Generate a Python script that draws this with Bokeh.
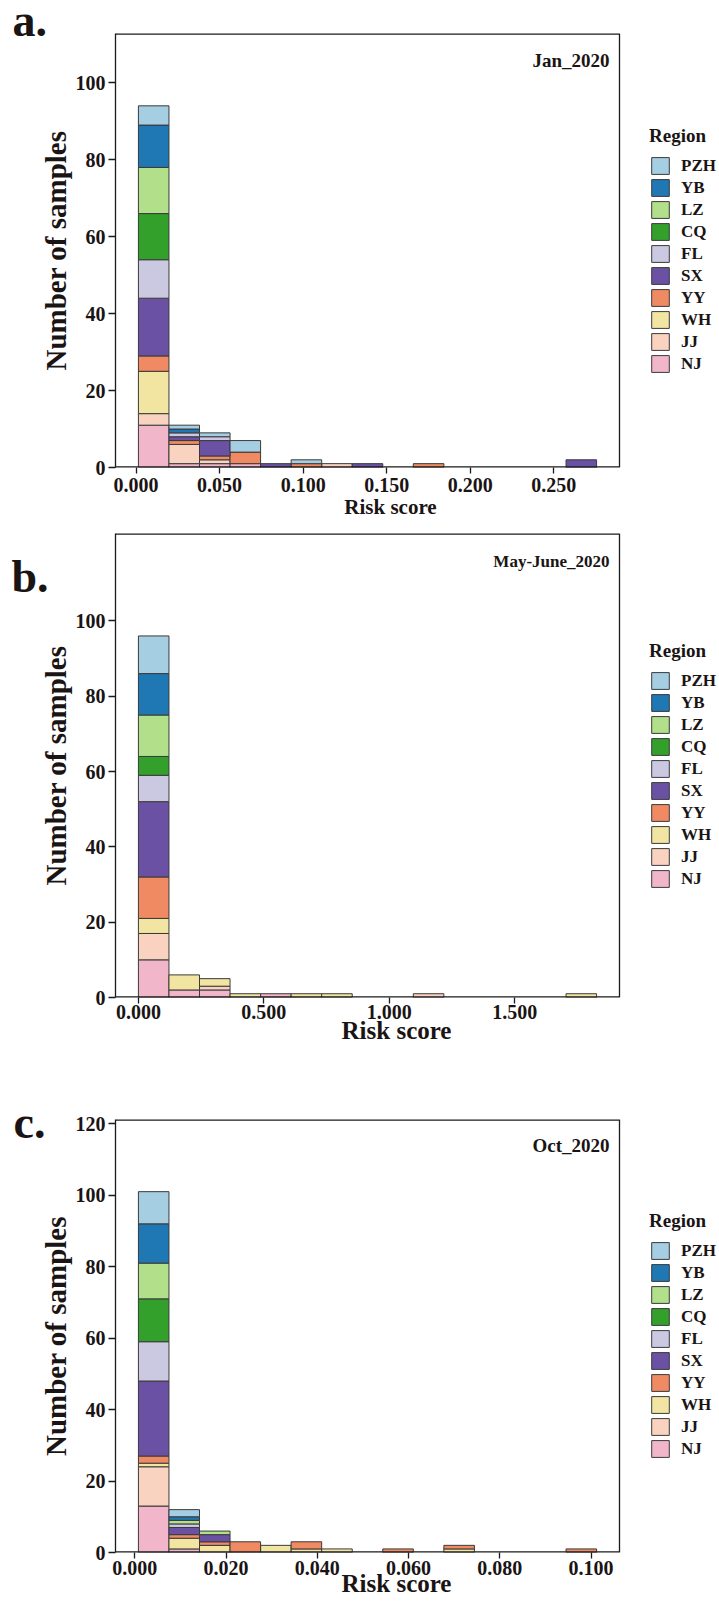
import numpy as np
from bokeh.plotting import figure
from bokeh.models import (ColumnDataSource, Range1d, FixedTicker, NumeralTickFormatter,
                          Label, Legend, LegendItem, LinearAxis, Title)
from bokeh.layouts import column
from bokeh.embed import file_html
from bokeh.resources import INLINE

# ---------------- data ----------------
regions = ["NJ", "JJ", "WH", "YY", "SX", "FL", "CQ", "LZ", "YB", "PZH"]
region_colors = ["#f1b6c9", "#f9d3bf", "#f2e5a2", "#ef8a62", "#6a51a3",
                 "#cbc9e2", "#33a02c", "#b2df8a", "#1f78b4", "#a6cee3"]

# Jan_2020: sample counts in 15 equal-width risk-score bins (min..max score)
jan_score_range = [0.0014, 0.2756]
jan_counts = {
    "NJ":  [11, 1, 1, 1, 0, 0, 0, 0, 0, 0, 0, 0, 0, 0, 0],
    "JJ":  [3, 5, 1, 0, 0, 0, 1, 0, 0, 0, 0, 0, 0, 0, 0],
    "WH":  [11, 0, 0, 0, 0, 0, 0, 0, 0, 0, 0, 0, 0, 0, 0],
    "YY":  [4, 1, 1, 3, 0, 1, 0, 0, 0, 1, 0, 0, 0, 0, 0],
    "SX":  [15, 1, 4, 0, 1, 0, 0, 1, 0, 0, 0, 0, 0, 0, 2],
    "FL":  [10, 1, 1, 0, 0, 0, 0, 0, 0, 0, 0, 0, 0, 0, 0],
    "CQ":  [12, 0, 0, 0, 0, 0, 0, 0, 0, 0, 0, 0, 0, 0, 0],
    "LZ":  [12, 0, 0, 0, 0, 0, 0, 0, 0, 0, 0, 0, 0, 0, 0],
    "YB":  [11, 1, 0, 0, 0, 0, 0, 0, 0, 0, 0, 0, 0, 0, 0],
    "PZH": [5, 1, 1, 3, 0, 1, 0, 0, 0, 0, 0, 0, 0, 0, 0],
}
jan_xticks = [0.0, 0.05, 0.10, 0.15, 0.20, 0.25]
jan_yticks = [0, 20, 40, 60, 80, 100]
jan_ytop = 112.8

# May-June_2020
may_score_range = [0.0, 1.826]
may_counts = {
    "NJ":  [10, 2, 2, 0, 1, 0, 0, 0, 0, 0, 0, 0, 0, 0, 0],
    "JJ":  [7, 0, 1, 0, 0, 0, 0, 0, 0, 1, 0, 0, 0, 0, 0],
    "WH":  [4, 4, 2, 1, 0, 1, 1, 0, 0, 0, 0, 0, 0, 0, 1],
    "YY":  [11, 0, 0, 0, 0, 0, 0, 0, 0, 0, 0, 0, 0, 0, 0],
    "SX":  [20, 0, 0, 0, 0, 0, 0, 0, 0, 0, 0, 0, 0, 0, 0],
    "FL":  [7, 0, 0, 0, 0, 0, 0, 0, 0, 0, 0, 0, 0, 0, 0],
    "CQ":  [5, 0, 0, 0, 0, 0, 0, 0, 0, 0, 0, 0, 0, 0, 0],
    "LZ":  [11, 0, 0, 0, 0, 0, 0, 0, 0, 0, 0, 0, 0, 0, 0],
    "YB":  [11, 0, 0, 0, 0, 0, 0, 0, 0, 0, 0, 0, 0, 0, 0],
    "PZH": [10, 0, 0, 0, 0, 0, 0, 0, 0, 0, 0, 0, 0, 0, 0],
}
may_xticks = [0.0, 0.5, 1.0, 1.5]
may_yticks = [0, 20, 40, 60, 80, 100]
may_ytop = 123.2

# Oct_2020
oct_score_range = [0.0008, 0.1012]
oct_counts = {
    "NJ":  [13, 1, 0, 0, 0, 0, 0, 0, 0, 0, 0, 0, 0, 0, 0],
    "JJ":  [11, 0, 0, 0, 0, 0, 0, 0, 0, 0, 0, 0, 0, 0, 0],
    "WH":  [1, 3, 2, 0, 2, 1, 1, 0, 0, 0, 1, 0, 0, 0, 0],
    "YY":  [2, 1, 1, 3, 0, 2, 0, 0, 1, 0, 1, 0, 0, 0, 1],
    "SX":  [21, 2, 2, 0, 0, 0, 0, 0, 0, 0, 0, 0, 0, 0, 0],
    "FL":  [11, 1, 0, 0, 0, 0, 0, 0, 0, 0, 0, 0, 0, 0, 0],
    "CQ":  [12, 0, 0, 0, 0, 0, 0, 0, 0, 0, 0, 0, 0, 0, 0],
    "LZ":  [10, 1, 1, 0, 0, 0, 0, 0, 0, 0, 0, 0, 0, 0, 0],
    "YB":  [11, 1, 0, 0, 0, 0, 0, 0, 0, 0, 0, 0, 0, 0, 0],
    "PZH": [9, 2, 0, 0, 0, 0, 0, 0, 0, 0, 0, 0, 0, 0, 0],
}
oct_xticks = [0.0, 0.02, 0.04, 0.06, 0.08, 0.10]
oct_yticks = [0, 20, 40, 60, 80, 100, 120]
oct_ytop = 121.2

# ---------------- style / layout ----------------
FONT = "Liberation Serif"
TXT = "#1a1414"
EDGE = "#3a3a3a"
SPINE = "#1a1a1a"
FIG_W = 719
FL_ = 115        # frame left (px)
BOX_W = 504      # width of the drawn axes box (px)
FRAME_W = FIG_W - FL_   # plotting frame runs to the right edge so the legend is not clipped


def plain_axis(ax):
    ax.axis_line_color = None
    ax.major_tick_line_color = None
    ax.minor_tick_line_color = None
    ax.major_tick_in = 0
    ax.major_tick_out = 0
    ax.major_label_text_font = FONT
    ax.major_label_text_font_style = "bold"
    ax.major_label_text_color = TXT


def build_panel(counts, score_range, xticks, yticks, ytop, letter, title, g):
    lo, hi = score_range
    nb = len(counts["NJ"])
    edges = np.linspace(lo, hi, nb + 1)
    span = hi - lo
    x0, x1 = lo - 0.05 * span, hi + 0.05 * span          # axes box limits
    xr_end = x0 + (x1 - x0) * FRAME_W / BOX_W              # frame extends past the box
    to_data = lambda px: x0 + (px - FL_) / FRAME_W * (xr_end - x0)
    fh = g["fh"]
    p = figure(width=FIG_W, height=g["fig_h"], output_backend="svg", toolbar_location=None,
               title=None, x_range=Range1d(x0, xr_end), y_range=Range1d(0, ytop),
               min_border_left=FL_, min_border_right=0,
               min_border_top=g["bt"], min_border_bottom=g["fig_h"] - g["bt"] - fh)
    p.background_fill_color = "white"
    p.border_fill_color = "white"
    p.outline_line_color = None
    p.xgrid.visible = False
    p.ygrid.visible = False

    bottoms = np.zeros(nb)
    rends = {}
    for reg, col in zip(regions, region_colors):
        c = np.array(counts[reg], dtype=float)
        m = c > 0
        src = ColumnDataSource(dict(left=edges[:-1][m], right=edges[1:][m],
                                    bottom=bottoms[m], top=(bottoms + c)[m]))
        rends[reg] = p.quad(left="left", right="right", bottom="bottom", top="top",
                            source=src, fill_color=col, line_color=EDGE, line_width=1)
        bottoms = bottoms + c

    # axes box: top and bottom edges sit on the frame edge (half clipped), right edge inside
    p.segment(x0=[x0, x0], y0=[0, ytop], x1=[x1, x1], y1=[0, ytop],
              line_color=SPINE, line_width=2.6)
    p.segment(x0=[x1], y0=[0], x1=[x1], y1=[ytop], line_color=SPINE, line_width=1.3)

    for ax, ticks in ((p.xaxis, xticks), (p.yaxis, yticks)):
        ax.ticker = FixedTicker(ticks=ticks)
        ax.major_label_text_font = FONT
        ax.major_label_text_font_style = "bold"
        ax.major_label_text_font_size = "20px"
        ax.major_label_text_color = TXT
        ax.major_tick_line_color = SPINE
        ax.major_tick_line_width = 1.3
        ax.major_tick_in = 0
        ax.minor_tick_line_color = None
    p.xaxis.axis_line_color = None
    p.yaxis.axis_line_color = SPINE
    p.yaxis.axis_line_width = 1.3
    p.xaxis.formatter = NumeralTickFormatter(format="0.000")
    p.xaxis.major_tick_out = 6
    p.xaxis.major_label_standoff = g["xstand"]
    p.yaxis.major_tick_out = 7
    p.yaxis.major_label_standoff = 3
    p.yaxis.axis_label = "Number of samples"
    p.yaxis.axis_label_text_font = FONT
    p.yaxis.axis_label_text_font_style = "bold"
    p.yaxis.axis_label_text_font_size = "29px"
    p.yaxis.axis_label_text_color = TXT
    p.yaxis.axis_label_standoff = 1

    # x label: a text-only axis stacked below the tick labels (off-centre as in the source)
    xl_pos = to_data(g["xlab_px"])
    xl = LinearAxis(ticker=FixedTicker(ticks=[xl_pos]), major_label_overrides={xl_pos: "Risk score"})
    plain_axis(xl)
    xl.major_label_text_font_size = g["xlab_size"]
    xl.major_label_standoff = g["xlab_stand"]
    p.add_layout(xl, "below")

    # panel letter
    if g["letter_mode"] == "title":
        t = Title(text=letter, align="left", offset=g["letter_off"], standoff=g["letter_stand"],
                  text_font=FONT, text_font_style="bold", text_font_size="46px", text_color=TXT)
        p.add_layout(t, "above")
    else:
        ly = (fh - g["letter_py"]) / fh * ytop
        la = LinearAxis(ticker=FixedTicker(ticks=[ly]), major_label_overrides={ly: letter})
        plain_axis(la)
        la.major_label_text_font_size = "46px"
        la.major_label_standoff = g["letter_stand"]
        p.add_layout(la, "left")

    items = [LegendItem(label=r, renderers=[rends[r]]) for r in reversed(regions)]
    leg = Legend(items=items, location=(BOX_W + 30, g["leg_y"]), title="Region",
                 title_text_font=FONT, title_text_font_style="bold",
                 title_text_font_size="19px", title_text_color=TXT, title_standoff=8,
                 label_text_font=FONT, label_text_font_style="bold",
                 label_text_font_size="17px", label_text_color=TXT,
                 glyph_width=22, glyph_height=21, label_height=21, spacing=1,
                 label_standoff=10, padding=0, margin=0,
                 border_line_color=None, background_fill_alpha=0)
    p.add_layout(leg)

    p.add_layout(Label(x=BOX_W - 10, y=g["title_y"], x_units="screen", y_units="screen",
                       text=title, text_font=FONT, text_font_style="bold",
                       text_font_size=g["title_size"], text_color=TXT, text_align="right"))
    return p


geo_a = dict(fig_h=528, bt=33, fh=434, xstand=4, xlab_px=390, xlab_size="21px", xlab_stand=0,
             letter_mode="title", letter_off=-103, letter_stand=-24,
             title_y=397, title_size="19px", leg_y=93)
geo_b = dict(fig_h=530, bt=5, fh=464, xstand=1, xlab_px=396, xlab_size="25px", xlab_stand=-5,
             letter_mode="axis", letter_py=576 - 533, letter_stand=-12,
             title_y=427, title_size="17px", leg_y=108)
geo_c = dict(fig_h=544, bt=61, fh=433, xstand=2, xlab_px=396, xlab_size="25px", xlab_stand=-8,
             letter_mode="axis", letter_py=1122 - 1119, letter_stand=-9,
             title_y=397, title_size="19px", leg_y=93)

pa = build_panel(jan_counts, jan_score_range, jan_xticks, jan_yticks, jan_ytop,
                 "a.", "Jan_2020", geo_a)
pb = build_panel(may_counts, may_score_range, may_xticks, may_yticks, may_ytop,
                 "b.", "May-June_2020", geo_b)
pc = build_panel(oct_counts, oct_score_range, oct_xticks, oct_yticks, oct_ytop,
                 "c.", "Oct_2020", geo_c)

layout = column(pa, pb, pc, spacing=0)
open("out.html", "w").write(file_html(layout, INLINE))
